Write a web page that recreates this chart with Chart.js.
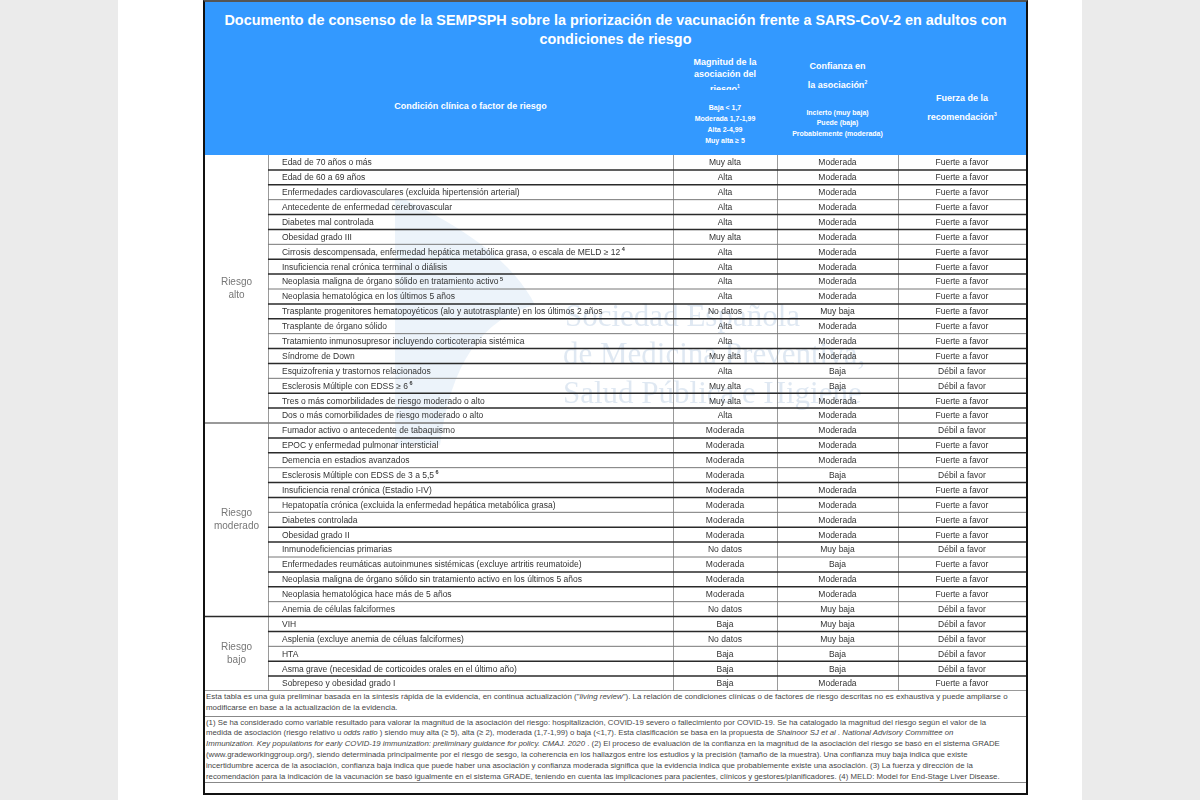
<!DOCTYPE html>
<html>
<head>
<meta charset="utf-8">
<script src="https://cdn.jsdelivr.net/npm/chart.js@4.4.1/dist/chart.umd.min.js"></script>
<style>
html, body { margin: 0; padding: 0; }
body { width: 1200px; height: 800px; background: #ebebeb; position: relative; overflow: hidden;
       font-family: Arial, "Liberation Sans", sans-serif; }
#page { position: absolute; left: 118px; top: 0; width: 964px; height: 800px; background: #fff; }
#table { position: absolute; left: 203px; top: 0; width: 821px; height: 791px; border: 2px solid #111;
         border-top-color: #555; background: #fff; }
#head { position: absolute; left: 0; top: 0; width: 821px; height: 153px; background: #3399ff; }
.t { position: absolute; white-space: nowrap; text-align: center; color: #fff; font-weight: bold; }
.t sup { font-size: 5px; vertical-align: 4px; }
#rows { position: absolute; left: 0; top: 153px; }
#foot { position: absolute; left: 0; top: 689px; width: 821px; height: 102px; color: #474747; }
#foot div { position: absolute; left: 1px; white-space: nowrap; }
#foot hr { position: absolute; left: 0; width: 821px; margin: 0; border: 0; border-top: 1px solid #888; }
</style>
</head>
<body>
<div id="page"></div>
<div id="table">
  <div id="head">
    <div class="t" style="left:0;width:821px;top:8.5px;font-size:14.4px;line-height:19px;">Documento de consenso de la SEMPSPH sobre la priorización de vacunación frente a SARS-CoV-2 en adultos con<br>condiciones de riesgo</div>
    <div class="t" style="left:63px;width:405px;top:98px;font-size:9px;line-height:12px;">Condición clínica o factor de riesgo</div>
    <div class="t" style="left:468px;width:104px;top:54px;height:34px;overflow:hidden;font-size:9px;line-height:12px;">Magnitud de la<br>asociación del<br>riesgo<sup>1</sup></div>
    <div class="t" style="left:468px;width:104px;top:99.5px;font-size:7px;line-height:11px;">Baja &lt; 1,7<br>Moderada 1,7-1,99<br>Alta 2-4,99<br>Muy alta ≥ 5</div>
    <div class="t" style="left:572px;width:121px;top:56px;font-size:9px;line-height:16px;">Confianza en<br>la asociación<sup>2</sup></div>
    <div class="t" style="left:572px;width:121px;top:105.75px;font-size:7px;line-height:10.5px;">Incierto (muy baja)<br>Puede (baja)<br>Probablemente (moderada)</div>
    <div class="t" style="left:693px;width:128px;top:88px;font-size:9px;line-height:16px;">Fuerza de la<br>recomendación<sup>3</sup></div>
  </div>
  <canvas id="rows" width="821" height="536"></canvas>
  <div id="foot">
    <div style="top:0;line-height:11px;font-size:7.95px;">Esta tabla es una guía preliminar basada en la síntesis rápida de la evidencia, en continua actualización ("<i>living review</i>"). La relación de condiciones clínicas o de factores de riesgo descritas no es exhaustiva y puede ampliarse o<br>modificarse en base a la actualización de la evidencia.</div>
    <hr style="top:25px;">
    <div style="top:26.6px;line-height:10.8px;font-size:7.8px;">(1) Se ha considerado como variable resultado para valorar la magnitud de la asociación del riesgo: hospitalización, COVID-19 severo o fallecimiento por COVID-19. Se ha catalogado la magnitud del riesgo según el valor de la<br>medida de asociación (riesgo relativo u <i>odds ratio</i> ) siendo muy alta (≥ 5), alta (≥ 2), moderada (1,7-1,99) o baja (&lt;1,7). Esta clasificación se basa en la propuesta de <i>Shainoor SJ et al . National Advisory Committee on</i><br><i>Immunization. Key populations for early COVID-19 immunization: preliminary guidance for policy. CMAJ. 2020</i> . (2) El proceso de evaluación de la confianza en la magnitud de la asociación del riesgo se basó en el sistema GRADE<br>(www.gradeworkinggroup.org/), siendo determinada principalmente por el riesgo de sesgo, la coherencia en los hallazgos entre los estudios y la precisión (tamaño de la muestra). Una confianza muy baja indica que existe<br>incertidumbre acerca de la asociación, confianza baja indica que puede haber una asociación y confianza moderada significa que la evidencia indica que probablemente existe una asociación. (3) La fuerza y dirección de la<br>recomendación para la indicación de la vacunación se basó igualmente en el sistema GRADE, teniendo en cuenta las implicaciones para pacientes, clínicos y gestores/planificadores. (4) MELD: Model for End-Stage Liver Disease.</div>
    <hr style="top:91px;">
  </div>
</div>

<script>
// table rows
const conditions = [
  'Edad de 70 años o más',
  'Edad de 60 a 69 años',
  'Enfermedades cardiovasculares (excluida hipertensión arterial)',
  'Antecedente de enfermedad cerebrovascular',
  'Diabetes mal controlada',
  'Obesidad grado III',
  'Cirrosis descompensada, enfermedad hepática metabólica grasa, o escala de MELD ≥ 12',
  'Insuficiencia renal crónica terminal o diálisis',
  'Neoplasia maligna de órgano sólido en tratamiento activo',
  'Neoplasia hematológica en los últimos 5 años',
  'Trasplante progenitores hematopoyéticos (alo y autotrasplante) en los últimos 2 años',
  'Trasplante de órgano sólido',
  'Tratamiento inmunosupresor incluyendo corticoterapia sistémica',
  'Síndrome de Down',
  'Esquizofrenia y trastornos relacionados',
  'Esclerosis Múltiple con EDSS ≥ 6',
  'Tres o más comorbilidades de riesgo moderado o alto',
  'Dos o más comorbilidades de riesgo moderado o alto',
  'Fumador activo o antecedente de tabaquismo',
  'EPOC y enfermedad pulmonar intersticial',
  'Demencia en estadios avanzados',
  'Esclerosis Múltiple con EDSS de 3 a 5,5',
  'Insuficiencia renal crónica (Estadio I-IV)',
  'Hepatopatía crónica (excluida la enfermedad hepática metabólica grasa)',
  'Diabetes controlada',
  'Obesidad grado II',
  'Inmunodeficiencias primarias',
  'Enfermedades reumáticas autoinmunes sistémicas (excluye artritis reumatoide)',
  'Neoplasia maligna de órgano sólido sin tratamiento activo en los últimos 5 años',
  'Neoplasia hematológica hace más de 5 años',
  'Anemia de células falciformes',
  'VIH',
  'Asplenia (excluye anemia de céluas falciformes)',
  'HTA',
  'Asma grave (necesidad de corticoides orales en el último año)',
  'Sobrepeso y obesidad grado I'
];
// footnote marks after the condition text
const notes = ['', '', '', '', '', '', '4', '', '5', '', '', '', '', '', '', '6', '', '',
               '', '', '', '6', '', '', '', '', '', '', '', '', '',
               '', '', '', '', ''];
const magnitud = [
  'Muy alta', 'Alta', 'Alta', 'Alta', 'Alta', 'Muy alta', 'Alta', 'Alta', 'Alta', 'Alta',
  'No datos', 'Alta', 'Alta', 'Muy alta', 'Alta', 'Muy alta', 'Muy alta', 'Alta',
  'Moderada', 'Moderada', 'Moderada', 'Moderada', 'Moderada', 'Moderada', 'Moderada', 'Moderada',
  'No datos', 'Moderada', 'Moderada', 'Moderada', 'No datos',
  'Baja', 'No datos', 'Baja', 'Baja', 'Baja'
];
const confianza = [
  'Moderada', 'Moderada', 'Moderada', 'Moderada', 'Moderada', 'Moderada', 'Moderada', 'Moderada', 'Moderada', 'Moderada',
  'Muy baja', 'Moderada', 'Moderada', 'Moderada', 'Baja', 'Baja', 'Moderada', 'Moderada',
  'Moderada', 'Moderada', 'Moderada', 'Baja', 'Moderada', 'Moderada', 'Moderada', 'Moderada',
  'Muy baja', 'Baja', 'Moderada', 'Moderada', 'Muy baja',
  'Muy baja', 'Muy baja', 'Baja', 'Baja', 'Moderada'
];
const fuerza = [
  'Fuerte a favor', 'Fuerte a favor', 'Fuerte a favor', 'Fuerte a favor', 'Fuerte a favor',
  'Fuerte a favor', 'Fuerte a favor', 'Fuerte a favor', 'Fuerte a favor', 'Fuerte a favor',
  'Fuerte a favor', 'Fuerte a favor', 'Fuerte a favor', 'Fuerte a favor', 'Débil a favor',
  'Débil a favor', 'Fuerte a favor', 'Fuerte a favor',
  'Débil a favor', 'Fuerte a favor', 'Fuerte a favor', 'Débil a favor', 'Fuerte a favor',
  'Fuerte a favor', 'Fuerte a favor', 'Fuerte a favor', 'Débil a favor', 'Fuerte a favor',
  'Fuerte a favor', 'Fuerte a favor', 'Débil a favor',
  'Débil a favor', 'Débil a favor', 'Débil a favor', 'Débil a favor', 'Fuerte a favor'
];
const groupNames = [['Riesgo', 'alto'], ['Riesgo', 'moderado'], ['Riesgo', 'bajo']];
const groupSizes = [18, 13, 5];

// column edges in % of the table width
const colEdges = [0, 7.67, 57.0, 69.67, 84.4, 100];
const FONT = '"Liberation Sans", Arial, sans-serif';

const tablePlugin = {
  id: 'tableCells',
  beforeDraw(chart) {
    const {ctx, chartArea: a} = chart;
    ctx.save();
    // faint society watermark
    ctx.fillStyle = 'rgba(70, 140, 210, 0.10)';
    ctx.beginPath();
    ctx.moveTo(a.left + 190, a.top + 40);
    ctx.quadraticCurveTo(a.left + 300, a.top + 90, a.left + 330, a.top + 150);
    ctx.quadraticCurveTo(a.left + 250, a.top + 170, a.left + 235, a.top + 290);
    ctx.lineTo(a.left + 190, a.top + 290);
    ctx.closePath();
    ctx.fill();
    ctx.fillStyle = 'rgba(110, 150, 195, 0.22)';
    ctx.font = '31px "Liberation Serif", serif';
    ctx.textBaseline = 'middle';
    ctx.fillText('Sociedad Española', a.left + 360, a.top + 163);
    ctx.fillText('de Medicina Preventiva,', a.left + 358, a.top + 201);
    ctx.fillText('Salud Pública e Higiene', a.left + 358, a.top + 240);
    ctx.restore();
  },
  afterDraw(chart) {
    const {ctx, chartArea: a, scales: {x, y}} = chart;
    const step = y.getPixelForValue(1) - y.getPixelForValue(0);
    const colX = i => x.getPixelForValue(colEdges[i]);
    const mid = i => (colX(i) + colX(i + 1)) / 2;
    ctx.save();

    // vertical column rules
    ctx.strokeStyle = '#9a9a9a';
    ctx.lineWidth = 1;
    for (let c = 1; c < colEdges.length - 1; c++) {
      ctx.beginPath();
      ctx.moveTo(Math.round(colX(c)) + 0.5, a.top);
      ctx.lineTo(Math.round(colX(c)) + 0.5, a.bottom);
      ctx.stroke();
    }

    // horizontal row rules, full width at group breaks
    const breaks = [];
    groupSizes.reduce((s, n) => { breaks.push(s + n); return s + n; }, 0);
    for (let i = 0; i < conditions.length; i++) {
      const yy = y.getPixelForValue(i) + step / 2;
      const isBreak = breaks.includes(i + 1);
      ctx.strokeStyle = i % 3 === 2 ? '#777' : '#2a2a2a';
      ctx.lineWidth = isBreak ? 1.6 : (i % 3 === 2 ? 1 : 1.5);
      ctx.beginPath();
      ctx.moveTo(isBreak ? a.left : colX(1), yy);
      ctx.lineTo(a.right, yy);
      ctx.stroke();
    }

    // cell text
    ctx.textBaseline = 'middle';
    ctx.fillStyle = '#333';
    conditions.forEach((txt, i) => {
      const yy = y.getPixelForValue(i) + 0.5;
      ctx.font = '8.5px ' + FONT;
      ctx.textAlign = 'left';
      const x0 = colX(1) + 14;
      ctx.fillText(txt, x0, yy);
      if (notes[i]) {
        const w = ctx.measureText(txt).width;
        ctx.font = 'bold 5.5px ' + FONT;
        ctx.fillText(notes[i], x0 + w + 1.5, yy - 3);
        ctx.font = '8.5px ' + FONT;
      }
      ctx.textAlign = 'center';
      ctx.fillText(magnitud[i], mid(2), yy);
      ctx.fillText(confianza[i], mid(3), yy);
      ctx.fillText(fuerza[i], mid(4), yy);
    });

    // risk group labels
    ctx.fillStyle = '#777';
    ctx.font = '10px ' + FONT;
    let start = 0;
    groupSizes.forEach((n, g) => {
      const cy = (y.getPixelForValue(start) + y.getPixelForValue(start + n - 1)) / 2;
      ctx.fillText(groupNames[g][0], mid(0), cy - 6.5);
      ctx.fillText(groupNames[g][1], mid(0), cy + 6.5);
      start += n;
    });
    ctx.restore();
  }
};

new Chart(document.getElementById('rows'), {
  type: 'bar',
  data: { labels: conditions, datasets: [] },
  options: {
    responsive: false,
    animation: false,
    events: [],
    indexAxis: 'y',
    layout: { padding: 0 },
    plugins: { legend: { display: false }, tooltip: { enabled: false } },
    scales: {
      x: { type: 'linear', min: 0, max: 100, display: false },
      y: { type: 'category', offset: true, display: false }
    }
  },
  plugins: [tablePlugin]
});
</script>
</body>
</html>
